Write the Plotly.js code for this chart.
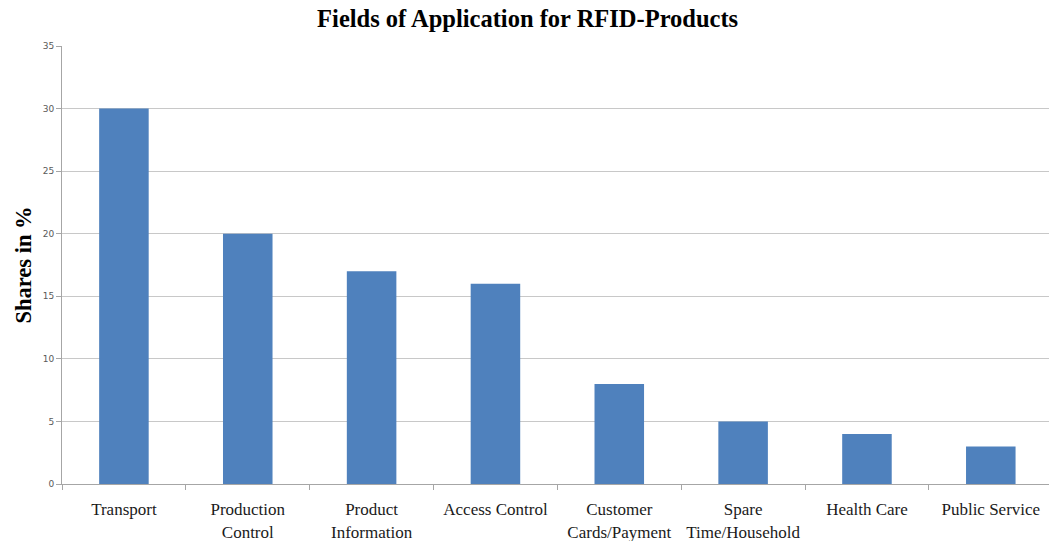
<!DOCTYPE html>
<html>
<head>
<meta charset="utf-8">
<script src="https://cdn.plot.ly/plotly-3.0.1.min.js"></script>
<style>html,body{margin:0;padding:0;background:#fff;}#chart{width:1049px;height:541px;}</style>
</head>
<body>
<div id="chart"></div>
<script>
const categories = ["Transport", "Production<br>Control", "Product<br>Information", "Access Control", "Customer<br>Cards/Payment", "Spare<br>Time/Household", "Health Care", "Public Service"];
const shares = [30, 20, 17, 16, 8, 5, 4, 3];
const yTicks = [0, 5, 10, 15, 20, 25, 30, 35];

const trace = {
  type: "bar",
  x: categories,
  y: shares,
  marker: {color: "#4f81bd"},
  hoverinfo: "x+y"
};

const layout = {
  width: 1049,
  height: 541,
  margin: {l: 62, r: 0, t: 46, b: 57},
  paper_bgcolor: "#ffffff",
  plot_bgcolor: "#ffffff",
  showlegend: false,
  bargap: 0.6,
  title: {
    text: "<b>Fields of Application for RFID-Products</b>",
    font: {family: "Liberation Serif", size: 24.5, color: "#000000"},
    x: 0.503, xanchor: "center",
    y: 0.966, yanchor: "middle", yref: "container"
  },
  xaxis: {
    type: "category",
    range: [-0.5, 7.47],
    showgrid: false,
    showline: true,
    linecolor: "#a6a6a6",
    linewidth: 1,
    ticks: "outside",
    tickson: "boundaries",
    ticklen: 5,
    tickcolor: "#a6a6a6",
    tickangle: 0,
    ticklabelstandoff: 10,
    tickfont: {family: "Liberation Serif", size: 17, color: "#1a1a1a"},
    zeroline: false,
    fixedrange: true
  },
  yaxis: {
    range: [0, 35],
    tickvals: yTicks,
    ticktext: yTicks.map(String),
    showgrid: true,
    gridcolor: "#c8c8c8",
    gridwidth: 1,
    showline: true,
    linecolor: "#a6a6a6",
    linewidth: 1,
    ticks: "outside",
    ticklen: 5,
    tickcolor: "#a6a6a6",
    tickfont: {family: "DejaVu Sans", size: 9, color: "#595959"},
    zeroline: false,
    automargin: false,
    title: {
      text: "<b>Shares in %</b>",
      font: {family: "Liberation Serif", size: 22.5, color: "#000000"},
      standoff: 4
    },
    fixedrange: true
  }
};

Plotly.newPlot("chart", [trace], layout, {displayModeBar: false, staticPlot: true});
</script>
</body>
</html>
